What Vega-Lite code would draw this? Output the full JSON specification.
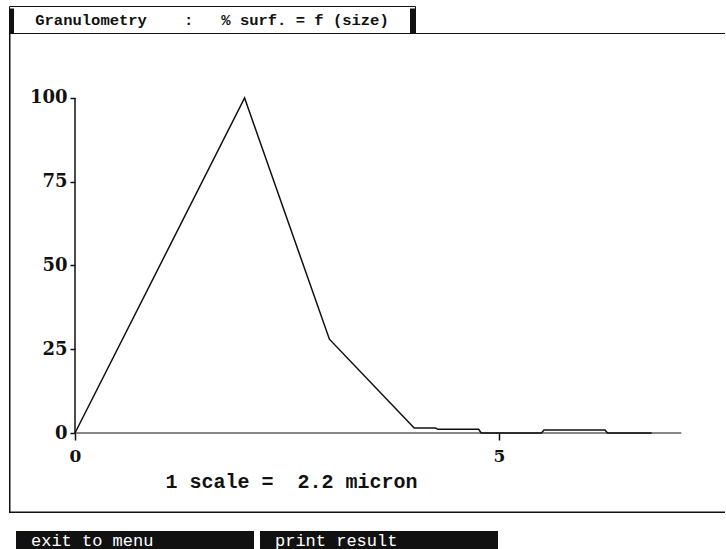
{
  "$schema": "https://vega.github.io/schema/vega-lite/v6.json",
  "background": "white",
  "padding": {"left": 8, "top": 5, "right": 0, "bottom": 0},
  "config": {"view": {"stroke": null}, "axis": {"grid": false}},
  "spacing": 17,
  "vconcat": [
    {
      "spacing": 0,
      "bounds": "flush",
      "vconcat": [
        {
          "width": 406,
          "height": 27,
          "view": {"stroke": "#111", "strokeWidth": 1},
          "data": {"values": [{"title": "Granulometry\u00a0\u00a0\u00a0 :\u00a0\u00a0 % surf. = f (size)"}]},
          "layer": [
            {
              "mark": {"type": "text", "font": "Liberation Mono", "fontWeight": "bold", "fontSize": 15.5, "color": "#111"},
              "encoding": {"text": {"field": "title"}}
            },
            {
              "mark": {"type": "rule", "strokeWidth": 5, "color": "#111", "xOffset": 2.5, "yOffset": 2.5, "y2Offset": -2.5},
              "encoding": {"x": {"datum": 0, "type": "quantitative", "scale": {"domain": [0, 1]}, "axis": null}}
            },
            {
              "mark": {"type": "rule", "strokeWidth": 5, "color": "#111", "xOffset": -2.5, "yOffset": 2.5, "y2Offset": -2.5},
              "encoding": {"x": {"datum": 1, "type": "quantitative", "axis": null}}
            }
          ]
        },
        {
          "width": 716,
          "height": 480,
          "data": {"values": [
            {"size": 0, "surf": 0},
            {"size": 2, "surf": 100},
            {"size": 3, "surf": 28},
            {"size": 4, "surf": 1.5},
            {"size": 4.25, "surf": 1.5},
            {"size": 4.28, "surf": 1.1},
            {"size": 4.76, "surf": 1.1},
            {"size": 4.79, "surf": 0},
            {"size": 5.5, "surf": 0},
            {"size": 5.53, "surf": 0.9},
            {"size": 6.25, "surf": 0.9},
            {"size": 6.28, "surf": 0},
            {"size": 6.8, "surf": 0}
          ]},
          "layer": [
            {
              "data": {"values": [{}]},
              "mark": {"type": "rule", "color": "#111", "strokeWidth": 1.5, "clip": false, "xOffset": 0.75},
              "encoding": {"x": {"datum": -0.7783, "type": "quantitative"}}
            },
            {
              "data": {"values": [{}]},
              "mark": {"type": "rule", "color": "#111", "strokeWidth": 1.5, "clip": false, "yOffset": -0.75},
              "encoding": {"y": {"datum": -23.88, "type": "quantitative"}}
            },
            {
              "data": {"values": [{}]},
              "mark": {"type": "rule", "color": "#111", "strokeWidth": 1, "clip": false, "yOffset": 0.5},
              "encoding": {"y": {"datum": 119.4, "type": "quantitative"}}
            },
            {
              "data": {"values": [{}]},
              "mark": {"type": "rule", "color": "#111", "strokeWidth": 1.5},
              "encoding": {
                "x": {"datum": 0, "type": "quantitative"},
                "y": {"datum": 0, "type": "quantitative"},
                "y2": {"datum": 100}
              }
            },
            {
              "data": {"values": [{}]},
              "mark": {"type": "rule", "color": "#111", "strokeWidth": 1},
              "encoding": {
                "y": {"datum": 0, "type": "quantitative"},
                "x": {"datum": 0, "type": "quantitative"},
                "x2": {"datum": 7.15}
              }
            },
            {
              "mark": {"type": "line", "color": "#111", "strokeWidth": 1.5},
              "encoding": {
                "x": {
                  "field": "size",
                  "type": "quantitative",
                  "scale": {"domain": [-0.7783, 7.665], "nice": false, "zero": false},
                  "axis": {
                    "title": "1 scale =\u00a0 2.2 micron",
                    "values": [0, 5],
                    "format": "d",
                    "offset": -80,
                    "domain": false,
                    "tickSize": 7,
                    "tickWidth": 1.5,
                    "tickColor": "#111",
                    "labelPadding": 8,
                    "labelFlush": false,
                    "labelFont": "DejaVu Serif",
                    "labelFontWeight": "bold",
                    "labelFontSize": 17,
                    "labelColor": "#111",
                    "titleFont": "Liberation Mono",
                    "titleFontWeight": "bold",
                    "titleFontSize": 20,
                    "titleColor": "#111",
                    "titleX": 282,
                    "titleY": 48,
                    "titleAlign": "center",
                    "titleBaseline": "middle"
                  }
                },
                "y": {
                  "field": "surf",
                  "type": "quantitative",
                  "scale": {"domain": [-23.88, 119.4], "nice": false, "zero": false},
                  "axis": {
                    "title": null,
                    "values": [0, 25, 50, 75, 100],
                    "offset": -66,
                    "domain": false,
                    "tickSize": 5,
                    "tickWidth": 1.5,
                    "tickColor": "#111",
                    "labelPadding": 3,
                    "labelFont": "DejaVu Serif",
                    "labelFontWeight": "bold",
                    "labelFontSize": 18,
                    "labelColor": "#111"
                  }
                }
              }
            }
          ]
        }
      ]
    },
    {
      "width": 496,
      "height": 19,
      "data": {"values": [{"label": "exit to menu"}, {"label": "print result"}]},
      "encoding": {
        "x": {"field": "label", "type": "nominal", "sort": null, "axis": null, "scale": {"paddingInner": 0.0246, "paddingOuter": 0.0287}}
      },
      "layer": [
        {"mark": {"type": "bar", "color": "#111"}},
        {
          "mark": {"type": "text", "align": "left", "dx": 15, "color": "white", "font": "Liberation Mono", "fontSize": 17},
          "encoding": {
            "x": {"field": "label", "type": "nominal", "sort": null, "bandPosition": 0, "axis": null},
            "text": {"field": "label"}
          }
        }
      ]
    }
  ]
}
